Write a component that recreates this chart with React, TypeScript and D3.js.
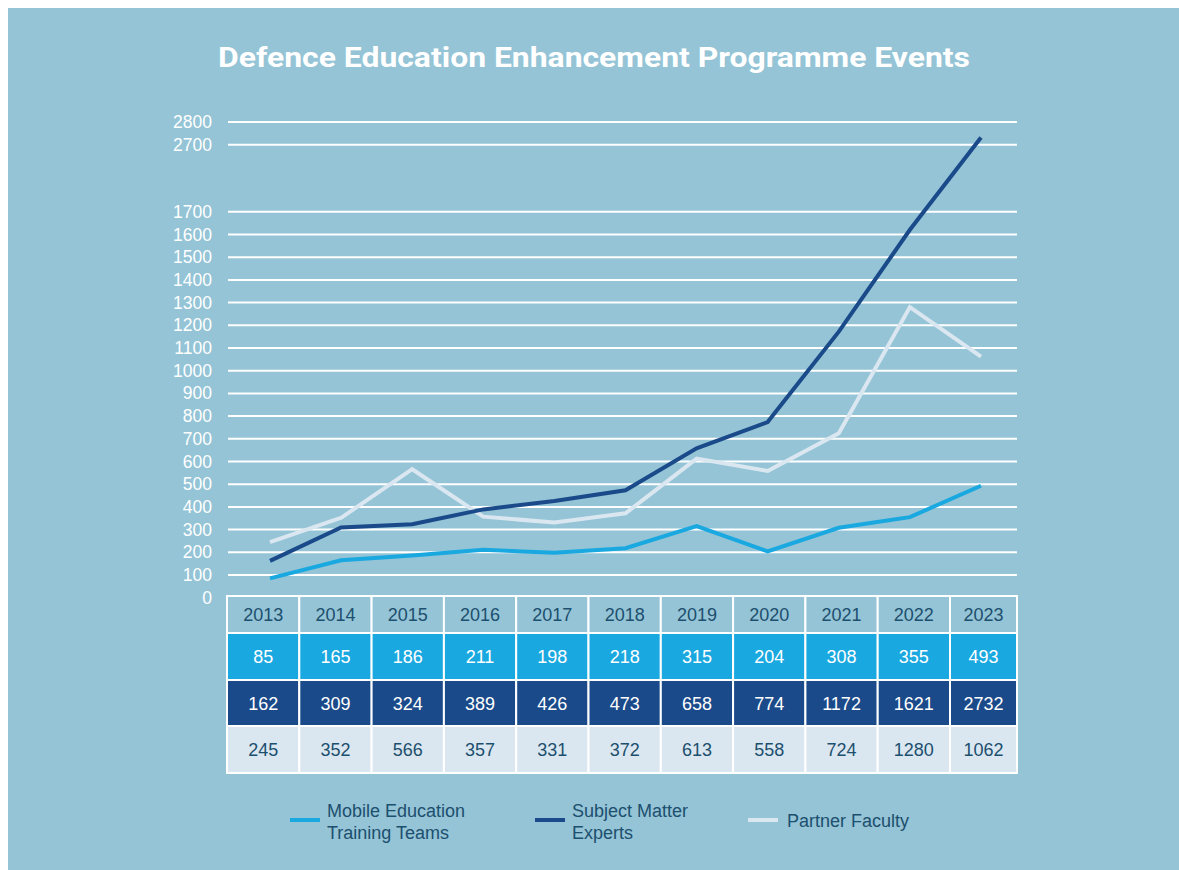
import React from "react";
import * as d3 from "d3";

const years = ["2013","2014","2015","2016","2017","2018","2019","2020","2021","2022","2023"];
const mobileTeams = [85,165,186,211,198,218,315,204,308,355,493];
const subjectExperts = [162,309,324,389,426,473,658,774,1172,1621,2732];
const partnerFaculty = [245,352,566,357,331,372,613,558,724,1280,1062];
const yTicks = [0,100,200,300,400,500,600,700,800,900,1000,1100,1200,1300,1400,1500,1600,1700,2700,2800];

const series = [
  { name: ["Mobile Education", "Training Teams"], values: mobileTeams, color: "#1aa8e0" },
  { name: ["Subject Matter", "Experts"], values: subjectExperts, color: "#1a4a89" },
  { name: ["Partner Faculty"], values: partnerFaculty, color: "#dae7f0" },
];

const BG = "#94c4d6";
const DARK = "#1d4f6e";
const FONT = "'Liberation Sans', Arial, sans-serif";

export default function App() {
  const x = d3.scaleLinear().domain([0, years.length - 1]).range([270, 981]);
  const y = d3.scaleLinear().domain([0, 1700, 2700, 2800]).range([597.7, 211.8, 144.7, 122]);
  const line = d3.line<number>().x((_, i) => x(i)).y((d) => y(d));

  const colEdges = [227, 299.3, 371.6, 443.9, 516.2, 588.5, 660.8, 733.1, 805.4, 877.7, 950, 1017];
  const rowEdges = [596, 633, 680, 726, 773];
  const rowFills = [BG, series[0].color, series[1].color, series[2].color];
  const rowText = [DARK, "#ffffff", "#ffffff", DARK];
  const rowData: string[][] = [years, mobileTeams.map(String), subjectExperts.map(String), partnerFaculty.map(String)];

  const legendX = [290, 535, 748];

  return (
    <svg width={1300} height={1000} style={{ display: "block", position: "fixed", left: 8, top: 8 }}>
      <g transform="translate(-8,-8)">
        <rect x={8} y={8} width={1300} height={1000} fill={BG} />
        <text x={594} y={67} textAnchor="middle" fill="#ffffff" fontFamily="Roboto, 'Open Sans', sans-serif" fontWeight={700} fontSize={28} textLength={752} lengthAdjust="spacingAndGlyphs">
          Defence Education Enhancement Programme Events
        </text>
        {yTicks.map((t) => (
          <g key={t}>
            {t > 0 && <line x1={228} x2={1017} y1={y(t)} y2={y(t)} stroke="#ffffff" strokeWidth={2} />}
            <text x={212} y={y(t) + 6} textAnchor="end" fill="#ffffff" fontFamily={FONT} fontSize={17.5}>{t}</text>
          </g>
        ))}
        {[2, 0, 1].map((si) => (
          <path key={si} d={line(series[si].values) || ""} fill="none" stroke={series[si].color} strokeWidth={4} strokeLinejoin="miter" />
        ))}
        {rowData.map((row, ri) => (
          <g key={ri}>
            {row.map((v, ci) => (
              <g key={ci}>
                <rect x={colEdges[ci]} y={rowEdges[ri]} width={colEdges[ci + 1] - colEdges[ci]} height={rowEdges[ri + 1] - rowEdges[ri]} fill={rowFills[ri]} stroke="#ffffff" strokeWidth={2} />
                <text x={(colEdges[ci] + colEdges[ci + 1]) / 2} y={(rowEdges[ri] + rowEdges[ri + 1]) / 2 + 6.5} textAnchor="middle" fill={rowText[ri]} fontFamily={FONT} fontSize={18}>{v}</text>
              </g>
            ))}
          </g>
        ))}
        {series.map((s, i) => (
          <g key={i}>
            <line x1={legendX[i]} x2={legendX[i] + 30} y1={820} y2={820} stroke={s.color} strokeWidth={4} />
            {s.name.map((n, j) => (
              <text key={j} x={legendX[i] + (i === 2 ? 39 : 37)} y={s.name.length === 1 ? 827 : 817 + j * 22} fill={DARK} fontFamily={FONT} fontSize={18}>{n}</text>
            ))}
          </g>
        ))}
      </g>
    </svg>
  );
}
